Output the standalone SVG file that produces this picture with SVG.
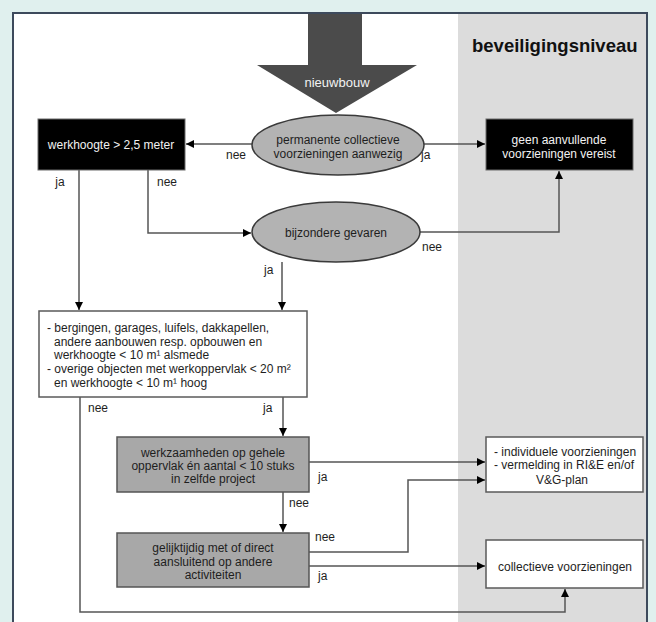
<svg xmlns="http://www.w3.org/2000/svg" width="656" height="622" viewBox="0 0 656 622">
<defs>
<style>
text{font-family:"Liberation Sans",Arial,sans-serif;font-size:12px;fill:#1e1e1e}
.w{fill:#f2f2f2}
.c{text-anchor:middle}
.ell{fill:#b3b3b3;stroke:#3a3a3a;stroke-width:1.5}
.blk{fill:#000;stroke:#6a6a6a;stroke-width:1}
.gry{fill:#a8a8a8;stroke:#555;stroke-width:1.5}
.wht{fill:#fff;stroke:#5a5a5a;stroke-width:1.5}
.ln{fill:none;stroke:#555;stroke-width:1.5;marker-end:url(#ah)}
</style>
<marker id="ah" viewBox="0 0 10 10" refX="10" refY="5" markerWidth="8" markerHeight="8" markerUnits="userSpaceOnUse" orient="auto">
<path d="M0,0 L10,5 L0,10 Z" fill="#000"/>
</marker>
</defs>
<rect x="0" y="0" width="656" height="622" fill="#e0f0ee"/>
<rect x="13" y="13" width="634" height="620" fill="#fff" stroke="#3d4a5c" stroke-width="2"/>
<rect x="458" y="14" width="188" height="608" fill="#dcdcdc"/>
<text x="472" y="52" style="font-size:18.5px;font-weight:bold;fill:#111">beveiligingsniveau</text>

<g id="arrow-nieuwbouw">
<polygon points="308,14 362,14 362,65 417,65 336,113 257,65 308,65" fill="#4b4b4b"/>
<text class="c w" x="337" y="87" style="font-size:13px">nieuwbouw</text>
</g>

<g id="connectors">
<path class="ln" d="M252,144 H186"/>
<path class="ln" d="M424,144 H485"/>
<path class="ln" d="M79,170 V310"/>
<path class="ln" d="M148,170 V233 H251"/>
<path class="ln" d="M420,232 H559 V171"/>
<path class="ln" d="M282,262 V310"/>
<path class="ln" d="M80,397 V612 H565 V589"/>
<path class="ln" d="M283,397 V436"/>
<path class="ln" d="M309,462 H485"/>
<path class="ln" d="M283,492 V532"/>
<path class="ln" d="M309,552 H408 V480 H485"/>
<path class="ln" d="M309,566 H485"/>
<text x="236" y="159" class="c">nee</text>
<text x="421" y="159">ja</text>
<text x="60" y="186" class="c">ja</text>
<text x="157" y="186">nee</text>
<text x="422" y="251">nee</text>
<text x="264" y="274">ja</text>
<text x="88" y="412">nee</text>
<text x="263" y="412">ja</text>
<text x="318" y="481">ja</text>
<text x="289" y="507">nee</text>
<text x="315" y="541">nee</text>
<text x="318" y="580">ja</text>
</g>

<g id="node-permanente">
<ellipse class="ell" cx="338" cy="145" rx="86" ry="30"/>
<text class="c" x="338" y="144">permanente collectieve</text>
<text class="c" x="338" y="158">voorzieningen aanwezig</text>
</g>

<g id="node-werkhoogte">
<rect class="blk" x="38" y="119" width="147" height="51"/>
<text class="c w" x="111" y="149">werkhoogte &gt; 2,5 meter</text>
</g>

<g id="node-geen">
<rect class="blk" x="486" y="119" width="147" height="51"/>
<text class="c w" x="559" y="144">geen aanvullende</text>
<text class="c w" x="559" y="158">voorzieningen vereist</text>
</g>

<g id="node-bijzondere">
<ellipse class="ell" cx="336" cy="232" rx="84" ry="30"/>
<text class="c" x="336" y="237">bijzondere gevaren</text>
</g>

<g id="node-bergingen">
<rect class="wht" x="39" y="311" width="268" height="86"/>
<text x="47" y="332">- bergingen, garages, luifels, dakkapellen,</text>
<text x="54" y="346">andere aanbouwen resp. opbouwen en</text>
<text x="54" y="359">werkhoogte &lt; 10 m¹ alsmede</text>
<text x="47" y="373">- overige objecten met werkoppervlak &lt; 20 m²</text>
<text x="54" y="387">en werkhoogte &lt; 10 m¹ hoog</text>
</g>

<g id="node-werkzaamheden">
<rect class="gry" x="117" y="437" width="192" height="55"/>
<text class="c" x="213" y="457">werkzaamheden op gehele</text>
<text class="c" x="213" y="470">oppervlak én aantal &lt; 10 stuks</text>
<text class="c" x="213" y="483">in zelfde project</text>
</g>

<g id="node-gelijktijdig">
<rect class="gry" x="117" y="533" width="192" height="54"/>
<text class="c" x="213" y="552">gelijktijdig met of direct</text>
<text class="c" x="213" y="566">aansluitend op andere</text>
<text class="c" x="213" y="579">activiteiten</text>
</g>

<g id="node-individuele">
<rect class="wht" x="486" y="437" width="157" height="55"/>
<text x="494" y="456">- individuele voorzieningen</text>
<text x="494" y="469">- vermelding in RI&amp;E en/of</text>
<text class="c" x="562" y="484">V&amp;G-plan</text>
</g>

<g id="node-collectieve">
<rect class="wht" x="486" y="540" width="157" height="48"/>
<text class="c" x="565" y="571">collectieve voorzieningen</text>
</g>
</svg>
